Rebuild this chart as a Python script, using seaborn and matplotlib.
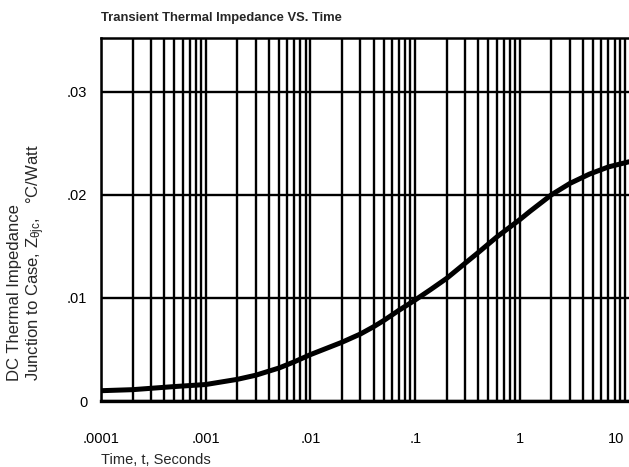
import numpy as np
import pandas as pd
import matplotlib
matplotlib.use("Agg")
import matplotlib.pyplot as plt
from matplotlib.ticker import LogLocator, FixedLocator, NullFormatter
import seaborn as sns

# Transient thermal impedance, junction to case (°C/W) versus pulse time (s)
time_s = [1e-4, 2e-4, 5e-4, 1e-3, 2e-3, 3e-3, 5e-3, 7e-3, 1e-2, 2e-2, 3e-2,
          4e-2, 5e-2, 7e-2, 0.1, 0.14, 0.2, 0.4, 0.6, 1.0, 1.25, 2.0, 3.0,
          4.6, 7.0, 11.0]
z_thjc = [0.0010, 0.0011, 0.0014, 0.0016, 0.0021, 0.0025, 0.0032, 0.0038,
          0.0045, 0.0057, 0.0065, 0.0072, 0.0078, 0.0088, 0.0098, 0.0108,
          0.0119, 0.0144, 0.0159, 0.0176, 0.0184, 0.0200, 0.0211, 0.0220,
          0.0227, 0.0232]

x_ticks = [1e-4, 1e-3, 1e-2, 1e-1, 1, 10]
x_tick_labels = [".0001", ".001", ".01", ".1", "1", "10"]
y_ticks = [0, 0.01, 0.02, 0.03]
y_tick_labels = ["0", ".01", ".02", ".03"]

sns.set_style("white")
plt.rcParams["font.family"] = ["Liberation Sans", "DejaVu Sans"]
plt.rcParams["mathtext.fontset"] = "custom"
plt.rcParams["mathtext.rm"] = "Liberation Sans"
plt.rcParams["mathtext.it"] = "Liberation Sans"

fig = plt.figure(figsize=(6.29, 4.67), dpi=100)
ax = fig.add_axes([0.1606, 0.1413, 0.8394, 0.7773])

df = pd.DataFrame({"t": time_s, "z": z_thjc})
sns.lineplot(data=df, x="t", y="z", ax=ax, color="black", linewidth=3.6,
             zorder=5)

ax.set_xscale("log")
ax.set_xlim(1e-4, 11)
ax.set_ylim(0, 0.0352)

ax.xaxis.set_major_locator(FixedLocator(x_ticks))
ax.set_xticklabels(x_tick_labels)
ax.xaxis.set_minor_locator(LogLocator(base=10, subs=np.arange(2, 10)))
ax.xaxis.set_minor_formatter(NullFormatter())
ax.set_yticks(y_ticks)
ax.set_yticklabels(y_tick_labels)
ax.get_xticklabels()[-1].set_horizontalalignment("right")

ax.grid(True, which="both", axis="x", color="black", linewidth=1.7)
ax.grid(True, which="major", axis="y", color="black", linewidth=1.7)
ax.set_axisbelow(True)

for side in ["left", "top", "bottom"]:
    ax.spines[side].set_visible(True)
    ax.spines[side].set_color("black")
    ax.spines[side].set_linewidth(1.8)
ax.spines["bottom"].set_linewidth(2.4)
ax.spines["right"].set_visible(False)

ax.tick_params(axis="both", which="both", length=0, labelsize=10.5,
               colors="black")
ax.tick_params(axis="x", pad=22)
ax.tick_params(axis="y", pad=10)

ax.set_xlabel("Time, t, Seconds", fontsize=10.5)
ax.xaxis.set_label_coords(0.0, -0.142)
ax.xaxis.label.set_horizontalalignment("left")
ax.xaxis.label.set_verticalalignment("top")

ax.set_ylabel("DC Thermal Impedance\nJunction to Case, Z$_{\\theta jc}$,   °C/Watt",
              fontsize=12, linespacing=1.2, multialignment="left")
ax.yaxis.label.set_horizontalalignment("left")
ax.yaxis.set_label_coords(-0.102, 0.055)

fig.text(0.1606, 0.955, "Transient Thermal Impedance VS. Time",
         fontsize=9.4, fontweight="bold", ha="left", va="baseline")

fig.savefig("out.png", dpi=100, facecolor="white")
